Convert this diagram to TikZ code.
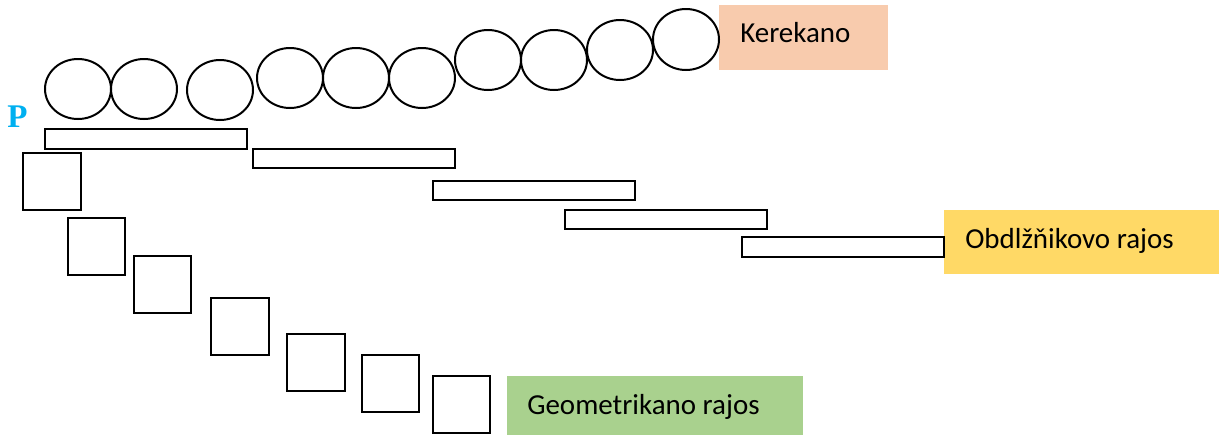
\documentclass[tikz,border=0pt]{standalone}
\usepackage{fontspec}
\setmainfont{Carlito}
\newfontfamily\pfont{Liberation Serif}
\definecolor{kerekanofill}{HTML}{F8CBAD}
\definecolor{obdlfill}{HTML}{FFD966}
\definecolor{geomfill}{HTML}{A9D18E}
\definecolor{pblue}{HTML}{00B0F0}
\tikzset{
  outl/.style={draw=black, line width=0.05cm},
  tag/.style={anchor=base west, inner sep=0pt, font=\fontsize{20.6}{24}\selectfont}
}

\begin{document}
\begin{tikzpicture}[x=0.025cm,y=-0.025cm]
				\useasboundingbox (0,0) rectangle (1219,436);
				
				% label boxes
				\fill[kerekanofill] (719,5) rectangle (888,70);
				\node[tag] (kerekano) at (740,42) {Kerekano};
				\fill[obdlfill] (944,210) rectangle (1219,274);
				\node[tag] (obdl) at (965,248) {Obdlžňikovo rajos};
				\fill[geomfill] (507,376) rectangle (803,435);
				\node[tag] (geom) at (527,414) {Geometrikano rajos};
				
				\node[anchor=base west, inner sep=0pt, text=pblue, font=\pfont\bfseries\fontsize{23.5}{26}\selectfont] (p) at (7,127) {P};
				
				% circles
				\draw[outl] (78,89) ellipse (33 and 30);
				\draw[outl] (144,89) ellipse (33 and 30);
				\draw[outl] (220,90) ellipse (33 and 30);
				\draw[outl] (290,78) ellipse (33 and 30);
				\draw[outl] (356,78) ellipse (33 and 30);
				\draw[outl] (422,78) ellipse (33 and 30);
				\draw[outl] (488,60) ellipse (33 and 30);
				\draw[outl] (554,60) ellipse (33 and 30);
				\draw[outl] (620,50) ellipse (33 and 30);
				\draw[outl] (686,39.5) ellipse (33 and 30.5);
				
				% long rectangles
				\draw[outl] (45,129) rectangle (247,149);
				\draw[outl] (253,149) rectangle (455,168);
				\draw[outl] (433,181) rectangle (635,200);
				\draw[outl] (565,210) rectangle (767,229);
				\draw[outl] (742,237) rectangle (944,257);
				
				% squares
				\draw[outl] (23,153) rectangle (81,210);
				\draw[outl] (68,218) rectangle (125,275);
				\draw[outl] (134,256) rectangle (191,313);
				\draw[outl] (211,298) rectangle (269,355);
				\draw[outl] (287,334) rectangle (345,391);
				\draw[outl] (362,355) rectangle (419,412);
				\draw[outl] (433,376) rectangle (490,433);
			\end{tikzpicture}
\end{document}
